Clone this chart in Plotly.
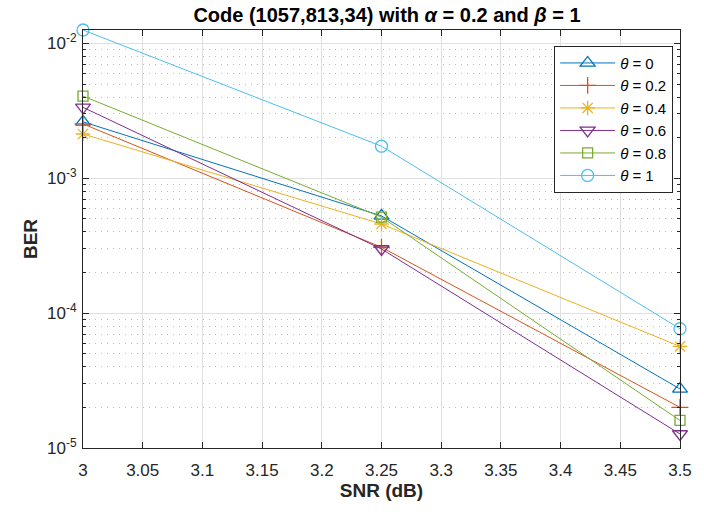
import plotly.graph_objects as go

snr = [3.0, 3.25, 3.5]
theta_labels = ["0", "0.2", "0.4", "0.6", "0.8", "1"]
ber_t0 = [2.62e-3, 5.26e-4, 2.74e-5]
ber_t02 = [2.53e-3, 3.08e-4, 2.0e-5]
ber_t04 = [2.13e-3, 4.58e-4, 5.66e-5]
ber_t06 = [3.36e-3, 2.99e-4, 1.27e-5]
ber_t08 = [4.07e-3, 5.15e-4, 1.6e-5]
ber_t1 = [1.257e-2, 1.73e-3, 7.66e-5]

x_ticks = [3, 3.05, 3.1, 3.15, 3.2, 3.25, 3.3, 3.35, 3.4, 3.45, 3.5]
x_ticktext = ["3", "3.05", "3.1", "3.15", "3.2", "3.25", "3.3", "3.35", "3.4", "3.45", "3.5"]
y_ticks = [1e-5, 1e-4, 1e-3, 1e-2]
y_ticktext = ["10<sup>-5</sup>", "10<sup>-4</sup>", "10<sup>-3</sup>", "10<sup>-2</sup>"]
y_minor = [m * 10.0 ** e for e in (-5, -4, -3) for m in range(2, 10)]

colors = ["#0072BD", "#D95319", "#EDB120", "#7E2F8E", "#77AC30", "#4DBEEE"]
symbols = ["triangle-up-open", "cross-thin-open", "asterisk-open",
           "triangle-down-open", "square-open", "circle-open"]
sizes = [13, 12, 12, 13, 10, 12]
series = [ber_t0, ber_t02, ber_t04, ber_t06, ber_t08, ber_t1]

fig = go.Figure()
for lab, ys, c, s, sz in zip(theta_labels, series, colors, symbols, sizes):
    fig.add_trace(go.Scatter(
        x=snr, y=ys, mode="lines+markers",
        name="<i>θ</i> = " + lab,
        line=dict(color=c, width=1),
        marker=dict(symbol=s, size=sz, color=c, line=dict(color=c, width=1.3)),
        cliponaxis=False,
    ))

FONT = "Liberation Sans, Arial, sans-serif"
axis_common = dict(
    showline=True, linecolor="#262626", linewidth=1, mirror="allticks",
    ticks="inside", ticklen=6, tickcolor="#262626", tickwidth=1,
    showgrid=True, gridcolor="#E0E0E0", gridwidth=1, zeroline=False,
    tickfont=dict(family=FONT, size=17, color="#262626"),
)

fig.update_layout(
    width=704, height=512,
    margin=dict(l=83, r=13, t=30, b=64),
    paper_bgcolor="white", plot_bgcolor="white",
    font=dict(family=FONT, color="#262626"),
    title=dict(
        text="<b>Code (1057,813,34) with <i>α</i> = 0.2 and <i>β</i> = 1</b>",
        x=(83 + 691) / 2 / 704, xanchor="center", y=1 - 15 / 512, yanchor="middle",
        font=dict(size=20, color="black"),
    ),
    xaxis=dict(
        range=[3, 3.5], tickvals=x_ticks, ticktext=x_ticktext, ticklabelstandoff=7,
        title=dict(text="<b>SNR (dB)</b>", font=dict(size=19, color="#262626"), standoff=0),
        **axis_common,
    ),
    yaxis=dict(
        type="log", range=[-5, -1.9005], tickvals=y_ticks, ticktext=y_ticktext,
        ticklabelstandoff=2,
        title=dict(text="<b>BER</b>", font=dict(size=19, color="#262626"), standoff=4),
        minor=dict(tickvals=y_minor, showgrid=True, griddash="1px,5px", gridcolor="#BEBEBE",
                   gridwidth=1, ticks="inside", ticklen=3, tickcolor="#262626"),
        **axis_common,
    ),
    legend=dict(
        x=(684 - 83) / 608, xanchor="right", y=(448 - 45.7) / 418, yanchor="top",
        bgcolor="white", bordercolor="#262626", borderwidth=1,
        font=dict(size=15, color="black"),
        itemwidth=55, tracegroupgap=0,
    ),
    showlegend=True,
)

fig.write_html("out.html")
